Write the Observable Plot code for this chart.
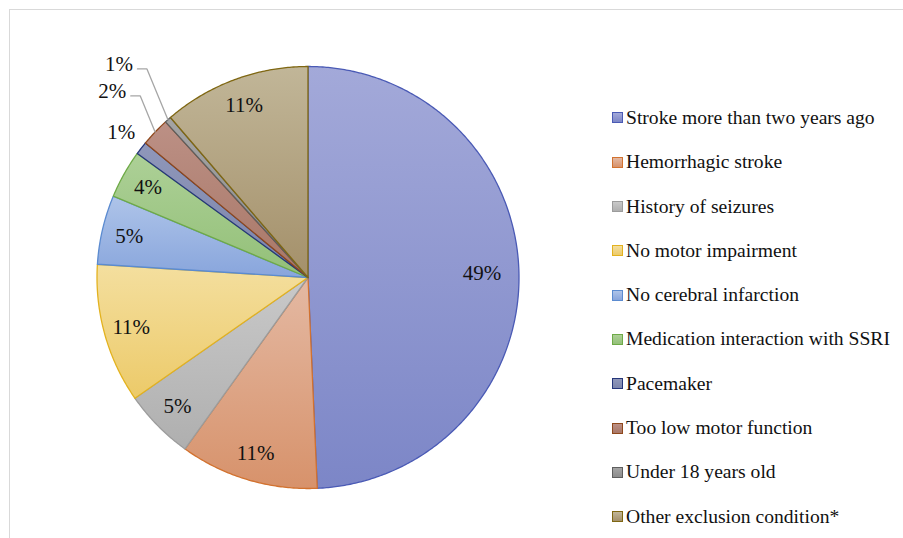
<!DOCTYPE html>
<html>
<head>
<meta charset="utf-8">
<script src="https://cdn.jsdelivr.net/npm/d3@7"></script>
<script src="https://cdn.jsdelivr.net/npm/@observablehq/plot@0.6"></script>
<style>
  body { margin: 0; background: #fff; }
  #wrap { position: relative; width: 903px; height: 538px; overflow: hidden; background: #fff;
          font-family: "Liberation Serif", "Times New Roman", serif; }
  #frame { position: absolute; left: 9px; top: 9px; right: -5px; bottom: -5px;
           border-top: 1px solid #d9d9d9; border-left: 1px solid #d9d9d9; }
  #chart { position: absolute; left: 0; top: 0; }
  #legend { position: absolute; left: 612px; top: 95.85px; }
  .row { display: flex; align-items: center; height: 44.3px; font-size: 19.6px; color: #111; white-space: nowrap; }
  .sw { width: 11px; height: 11px; box-sizing: border-box; border: 1px solid; margin-right: 3px; flex: none; }
</style>
</head>
<body>
<div id="wrap">
  <div id="frame"></div>
  <div id="chart"></div>
  <div id="legend"></div>
</div>
<script>
// ---------- data ----------
const categories = [
  "Stroke more than two years ago",
  "Hemorrhagic stroke",
  "History of seizures",
  "No motor impairment",
  "No cerebral infarction",
  "Medication interaction with SSRI",
  "Pacemaker",
  "Too low motor function",
  "Under 18 years old",
  "Other exclusion condition*"
];
// slice sizes as drawn (%)
const shares = [49.3, 10.6, 5.4, 10.7, 5.3, 3.7, 1.0, 2.2, 0.5, 11.3];
// percentages printed on the chart
const printedPct = [49, 11, 5, 11, 5, 4, 1, 2, 1, 11];
const labels = printedPct.map(v => v + "%");

// ---------- styles ----------
const fillTop    = ["#a3a9d9", "#e4b9a3", "#c9c9c9", "#f4df9f", "#aec4e9", "#add097", "#8f97ba", "#bc9085", "#a4a4a4", "#c1b698"];
const fillBottom = ["#7c86c7", "#d7926b", "#afafaf", "#ecca69", "#88a5dc", "#93c078", "#7c85ab", "#a87767", "#8c8c8c", "#a4906a"];
const borderCol  = ["#4a5ab5", "#d2722f", "#9c9c9c", "#e3b21f", "#5b8bd0", "#6eaa47", "#25367a", "#8f481c", "#5e5e5e", "#7f6712"];

// ---------- geometry ----------
const W = 903, H = 538;
const R = 211, CX = 307.5, CY = 277;     // pie radius / centre in px
const pie = d3.pie().sort(null).value(d => d)(shares);

const slicePts = [];
pie.forEach((p, i) => {
  const n = Math.max(2, Math.ceil((p.endAngle - p.startAngle) / (Math.PI / 360)));
  const base = {k: i, fill: `url(#g${i})`, stroke: borderCol[i]};
  slicePts.push({...base, x: 0, y: 0});
  for (let j = 0; j <= n; j++) {
    const a = p.startAngle + (p.endAngle - p.startAngle) * j / n;
    slicePts.push({...base, x: Math.sin(a), y: Math.cos(a)});
  }
  slicePts.push({...base, x: 0, y: 0});
});

// label placement
const outerRadii = [1.12, 1.28, 1.35];   // stacked outside labels for the thinnest slices
let outerIdx = 0;
const labelData = [];
const leaderPts = [];
pie.forEach((p, i) => {
  const a = (p.startAngle + p.endAngle) / 2;
  let rf;
  const outside = shares[i] < 3;
  if (outside) rf = outerRadii[outerIdx++];
  else rf = shares[i] > 30 ? 0.825 : 0.87;
  const lx = rf * Math.sin(a), ly = rf * Math.cos(a);
  labelData.push({x: lx, y: ly, text: labels[i]});
  if (outside && rf > 1.2) {
    const yy = ly - 4.5 / R;
    leaderPts.push({k: i, x: Math.sin(a), y: Math.cos(a)});
    leaderPts.push({k: i, x: lx + 28 / R, y: yy});
    leaderPts.push({k: i, x: lx + 18.5 / R, y: yy});
  }
});

const chart = Plot.plot({
  width: W,
  height: H,
  margin: 0,
  style: {background: "transparent", fontFamily: "Liberation Serif, Times New Roman, serif"},
  x: {axis: null, domain: [-CX / R, (W - CX) / R]},
  y: {axis: null, domain: [-(H - CY) / R, CY / R]},
  color: {type: "identity"},
  marks: [
    Plot.line(slicePts, {x: "x", y: "y", z: "k", fill: "fill", stroke: "stroke",
                         strokeWidth: 1.3, strokeLinejoin: "round", curve: "linear"}),
    Plot.line(leaderPts, {x: "x", y: "y", z: "k", stroke: "#a6a6a6", strokeWidth: 1.3}),
    Plot.text(labelData, {x: "x", y: "y", text: "text", fontSize: 21, fill: "#111",
                          fontFamily: "Liberation Serif, Times New Roman, serif"})
  ]
});

// gradients for the slices
const ns = "http://www.w3.org/2000/svg";
const defs = document.createElementNS(ns, "defs");
fillTop.forEach((c, i) => {
  const g = document.createElementNS(ns, "linearGradient");
  g.setAttribute("id", "g" + i);
  g.setAttribute("x1", "0"); g.setAttribute("y1", "0");
  g.setAttribute("x2", "0"); g.setAttribute("y2", "1");
  [[0, c], [1, fillBottom[i]]].forEach(([o, col]) => {
    const s = document.createElementNS(ns, "stop");
    s.setAttribute("offset", o);
    s.setAttribute("stop-color", col);
    g.appendChild(s);
  });
  defs.appendChild(g);
});
chart.insertBefore(defs, chart.firstChild);
document.getElementById("chart").appendChild(chart);

// legend
const legend = document.getElementById("legend");
categories.forEach((c, i) => {
  const row = document.createElement("div");
  row.className = "row";
  const sw = document.createElement("div");
  sw.className = "sw";
  sw.style.background = `linear-gradient(${fillTop[i]}, ${fillBottom[i]})`;
  sw.style.borderColor = borderCol[i];
  const t = document.createElement("span");
  t.textContent = c;
  row.appendChild(sw);
  row.appendChild(t);
  legend.appendChild(row);
});
</script>
</body>
</html>
